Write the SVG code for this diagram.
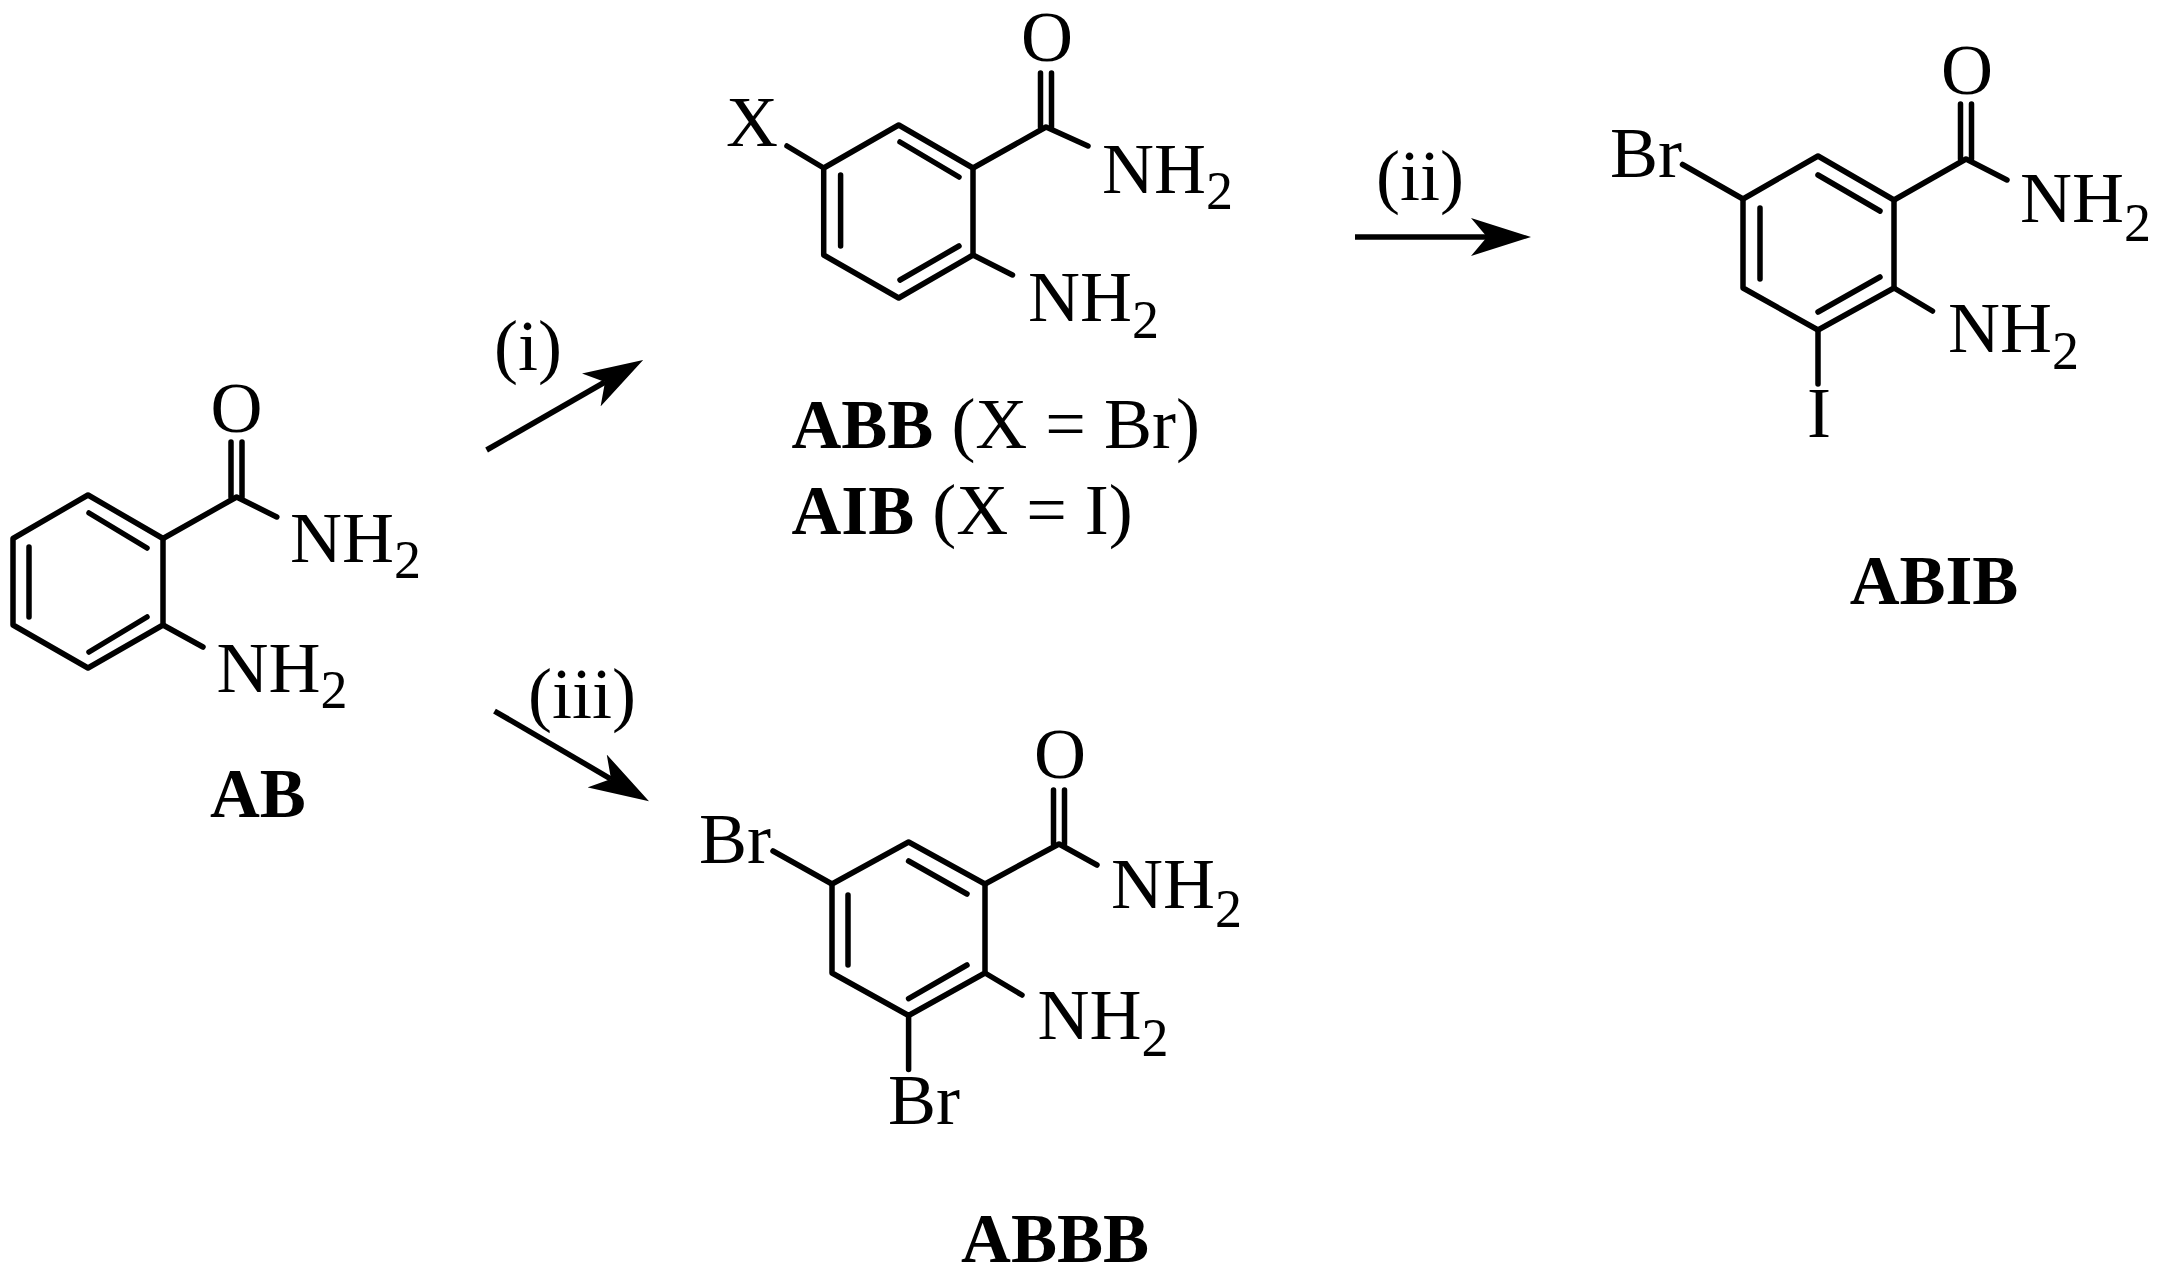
<svg xmlns="http://www.w3.org/2000/svg" width="2158" height="1277" viewBox="0 0 2158 1277">
<style>
.b{stroke:#000;stroke-width:5.5;fill:none;stroke-linecap:round;stroke-linejoin:round}
.a{stroke:#000;stroke-width:5.5;fill:none}
text{font-family:"Liberation Serif","Times New Roman",Times,serif;fill:#000}
.t{font-size:72px}
.s{font-size:54px}
.l{font-size:69px;font-weight:bold}
</style>
<defs>
<marker id="ah" markerUnits="userSpaceOnUse" markerWidth="60" markerHeight="38" viewBox="0 0 60 38" refX="16" refY="19" orient="auto">
<path d="M60,19 L0,0 L16,19 L0,38 Z" fill="#000"/>
</marker>
</defs>
<rect width="2158" height="1277" fill="#fff"/>

<g id="AB">
<path class="b" d="M88,495 L163,538.5 L163,625 L88,668 L13,625 L13,538.5 Z"/>
<path class="b" d="M89,513 L147,548 M29,547 L29,617 M89,652 L147,617"/>
<path class="b" d="M163,538.5 L236.6,497 L276.8,517 M163,625 L203,647"/>
<path class="b" d="M231,497 L231,442 M242,497 L242,442"/>
<text class="t" x="236.6" y="432" text-anchor="middle">O</text>
<text class="t" x="290" y="562">NH</text><text class="s" x="394" y="578">2</text>
<text class="t" x="216.5" y="692">NH</text><text class="s" x="320.5" y="708">2</text>
<text class="l" x="210" y="817">AB</text>
</g>

<g id="ABB">
<path class="b" d="M898.7,125 L973,168 L973,255 L898.7,298 L823.7,255 L823.7,168 Z"/>
<path class="b" d="M900,142 L959,177 M840.6,175 L840.6,246 M900,280 L959,246"/>
<path class="b" d="M973,168 L1046,127 L1088,146 M973,255 L1012.5,275 M823.7,168 L787,146"/>
<path class="b" d="M1040.5,127 L1040.5,73 M1051.5,127 L1051.5,73"/>
<text class="t" x="1047" y="61" text-anchor="middle">O</text>
<text class="t" x="726" y="146">X</text>
<text class="t" x="1102" y="193">NH</text><text class="s" x="1206" y="209">2</text>
<text class="t" x="1028" y="321">NH</text><text class="s" x="1132" y="338">2</text>
<text x="791.5" y="448"><tspan class="l">ABB</tspan><tspan class="t"> (X = Br)</tspan></text>
<text x="791.5" y="534"><tspan class="l">AIB</tspan><tspan class="t"> (X = I)</tspan></text>
</g>

<g id="ABIB">
<path class="b" d="M1818,156 L1894,200 L1894,288 L1818,330 L1743,288 L1743,199 Z"/>
<path class="b" d="M1818,175 L1880,211 M1760,208 L1760,279 M1818,312 L1880,277"/>
<path class="b" d="M1894,200 L1966,159 L2007,180 M1894,288 L1932.5,311 M1743,199 L1682.5,164.5 M1818,330 L1818,384"/>
<path class="b" d="M1960.5,159 L1960.5,104 M1971.5,159 L1971.5,104"/>
<text class="t" x="1967" y="94" text-anchor="middle">O</text>
<text class="t" x="1610" y="177">Br</text>
<text class="t" x="2020" y="222">NH</text><text class="s" x="2124" y="241">2</text>
<text class="t" x="1948" y="352">NH</text><text class="s" x="2052" y="369">2</text>
<text class="t" x="1819" y="437" text-anchor="middle">I</text>
<text class="l" x="1934" y="604" text-anchor="middle">ABIB</text>
</g>

<g id="ABBB">
<path class="b" d="M908.6,842 L985,884 L985,973 L908.6,1015.5 L832,973 L832,884 Z"/>
<path class="b" d="M908.6,861 L967,894 M848,895 L848,965 M908.6,998.6 L967,965"/>
<path class="b" d="M985,884 L1059,844 L1097,865 M985,973 L1022,995 M832,884 L773,851 M908.6,1015.5 L908.6,1069.5"/>
<path class="b" d="M1053.5,844 L1053.5,790 M1064.5,844 L1064.5,790"/>
<text class="t" x="1060" y="778" text-anchor="middle">O</text>
<text class="t" x="699" y="863">Br</text>
<text class="t" x="1111" y="908">NH</text><text class="s" x="1215" y="927">2</text>
<text class="t" x="1037.6" y="1039">NH</text><text class="s" x="1141.6" y="1056">2</text>
<text class="t" x="888" y="1124">Br</text>
<text class="l" x="1055" y="1262" text-anchor="middle">ABBB</text>
</g>

<g id="connectors">
<line class="a" x1="486.6" y1="450" x2="605" y2="382" marker-end="url(#ah)"/>
<line class="a" x1="1355" y1="237" x2="1487" y2="237" marker-end="url(#ah)"/>
<line class="a" x1="494.5" y1="711" x2="611" y2="779" marker-end="url(#ah)"/>
<text class="t" x="528" y="370" text-anchor="middle">(i)</text>
<text class="t" x="1420" y="200" text-anchor="middle">(ii)</text>
<text class="t" x="582" y="718" text-anchor="middle">(iii)</text>
</g>
</svg>
